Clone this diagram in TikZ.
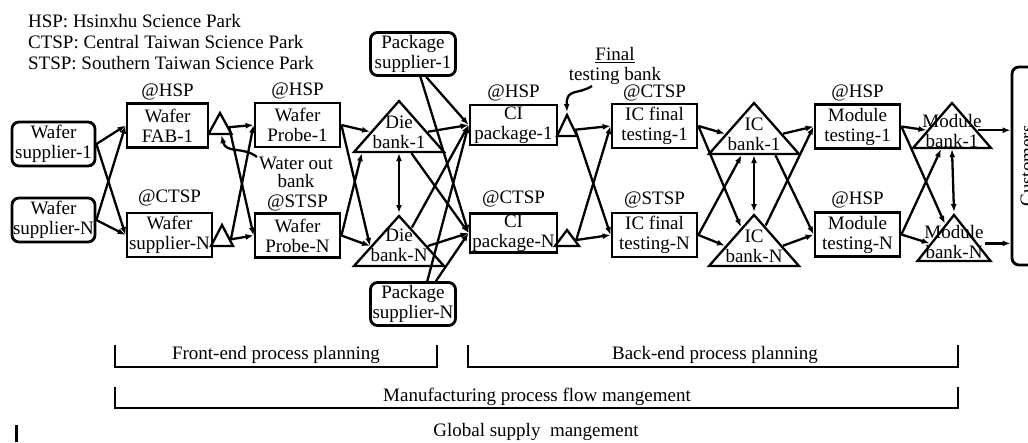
\documentclass[tikz,border=0pt]{standalone}
\usepackage{fontspec}
\setmainfont{Liberation Serif}
\usetikzlibrary{arrows.meta, shapes.geometric, positioning}

\tikzset{
	proc/.style = {draw, line width = 2.8pt, minimum width = 85pt, minimum height = 44pt, align = center, inner sep = 1pt},
	supp/.style = {proc, rounded corners = 7pt},
	bigbank/.style = {draw, isosceles triangle, isosceles triangle stretches, shape border rotate = 90, minimum width = 90pt, minimum height = 51pt, inner sep = 0pt},
	smallbank/.style = {bigbank, minimum width = 23pt, minimum height = 21pt},
	banktext/.style = {align = center, inner sep = 0pt, anchor = south},
	site/.style = {inner sep = 1pt}
}

\begin{document}
\begin{tikzpicture}[x = 1pt, y = -1pt, > = {Latex[length = 8pt, width = 6pt]}, line width = 2.3pt, font = \fontsize{19}{20}\selectfont]

	\clip (0, 0) rectangle (1028, 442);

	% Legend

	\node [anchor = north west, align = left, inner sep = 0pt, font = \fontsize{19}{21}\selectfont] (legend) at (27, 13)
		{HSP: Hsinxhu Science Park\\CTSP: Central Taiwan Science Park\\STSP: Southern Taiwan Science Park};

	% Suppliers and process steps

	\node [supp, minimum width = 83pt] (ws1) at (53.5, 144) {Wafer\\supplier-1};
	\node [supp, minimum width = 83pt] (wsN) at (53.5, 220) {Wafer\\supplier-N};
	\node [proc, minimum width = 81pt] (fab1) at (167.5, 125.5) {Wafer\\FAB-1};
	\node [proc] (fabN) at (169.5, 235) {Wafer\\supplier-N};
	\node [proc] (wp1) at (297.5, 125) {Wafer\\Probe-1};
	\node [proc] (wpN) at (297.5, 235.5) {Wafer\\Probe-N};
	\node [supp, minimum height = 43pt] (ps1) at (413, 54) {Package\\supplier-1};
	\node [supp, minimum height = 43pt] (psN) at (413, 304) {Package\\supplier-N};
	\node [proc, minimum width = 87pt, minimum height = 40pt] (ci1) at (513.5, 125) {CI\\package-1};
	\node [proc, minimum width = 87pt, minimum height = 38pt] (ciN) at (513.5, 233) {CI\\package-N};
	\node [proc] (ft1) at (654.5, 126) {IC final\\testing-1};
	\node [proc] (ftN) at (654.5, 235) {IC final\\testing-N};
	\node [proc] (mt1) at (857.5, 126.5) {Module\\testing-1};
	\node [proc] (mtN) at (857.5, 234.5) {Module\\testing-N};
	\node [supp, rotate = 90, minimum width = 198pt, minimum height = 30pt] (cust) at (1027, 166) {Customers};

	% Sites

	\node [site, above = 0pt of fab1] (fab1-at) {@HSP};
	\node [site, above = 3pt of fabN] (fabN-at) {@CTSP};
	\node [site, above = 0pt of wp1] (wp1-at) {@HSP};
	\node [site, above = -1pt of wpN] (wpN-at) {@STSP};
	\node [site, above = 0pt of ci1] (ci1-at) {@HSP};
	\node [site, above = 3pt of ciN] (ciN-at) {@CTSP};
	\node [site, above = -1pt of ft1] (ft1-at) {@CTSP};
	\node [site, above = 1pt of ftN] (ftN-at) {@STSP};
	\node [site, above = 0pt of mt1] (mt1-at) {@HSP};
	\node [site, above = 1pt of mtN] (mtN-at) {@HSP};

	% Banks

	\node [smallbank, anchor = apex] (wob1) at (220, 110) {};
	\node [smallbank, anchor = apex, minimum width = 22pt] (wobN) at (222, 222) {};
	\node [bigbank, anchor = apex] (db1) at (399, 98) {};
	\node [bigbank, anchor = apex, minimum height = 50pt] (dbN) at (399, 213) {};
	\node [smallbank, anchor = apex, minimum width = 20pt] (ftb1) at (567, 112) {};
	\node [smallbank, anchor = apex, minimum width = 24pt, minimum height = 16pt] (ftbN) at (567, 227) {};
	\node [bigbank, anchor = apex] (ib1) at (754, 100) {};
	\node [bigbank, anchor = apex] (ibN) at (754, 212) {};
	\node [bigbank, anchor = apex, minimum width = 78pt, minimum height = 45pt] (mb1) at (952, 100) {};
	\node [bigbank, anchor = apex, minimum width = 73pt, minimum height = 46pt] (mbN) at (954, 212) {};

	\node [banktext, yshift = 3pt] (db1-t) at (db1.lower side) {Die\\bank-1};
	\node [banktext, yshift = 4pt] (dbN-t) at (dbN.lower side) {Die\\bank-N};
	\node [banktext, yshift = 3pt] (ib1-t) at (ib1.lower side) {IC\\bank-1};
	\node [banktext, yshift = 3pt] (ibN-t) at (ibN.lower side) {IC\\bank-N};
	\node [banktext, yshift = 0pt] (mb1-t) at (mb1.lower side) {Module\\bank-1};
	\node [banktext, yshift = 2pt] (mbN-t) at (mbN.lower side) {Module\\bank-N};

	% Bank notes

	\node [align = center, inner sep = 0pt, font = \fontsize{19}{18}\selectfont] (wobl) at (296, 172) {Water out\\bank};
	\node [align = center, inner sep = 0pt] (ftbl) at (615, 66) {\underline{Final}\\testing bank};
	\coordinate (wobl-s) at (257, 157);
	\coordinate (ftbl-s) at (592, 86);

	\draw [->] (wobl-s) .. controls (243, 146) and (226, 154) .. (wob1.-80);
	\draw [->] (ftbl-s) .. controls (578, 95) and (566, 88) .. (ftb1.90);

	% Flows

	\begin{scope}[->]

		\foreach \a in {ws1, wsN}
			\foreach \b in {fab1, fabN}
				\draw (\a.east) -- (\b.west);

		\foreach \a in {wob1, wobN}
			\foreach \b in {wp1, wpN}
				\draw (\a.east) -- (\b.west);

		\draw (wp1.east) -- (db1.west);
		\draw (wp1.east) -- (dbN.west);
		\draw (wpN.east) -- (db1.210);
		\draw (wpN.east) -- (dbN.west);

		\draw (db1.east) -- (ci1.west);
		\draw (db1.-60) -- (ciN.west);
		\draw (dbN.55) -- (ci1.west);
		\draw (dbN.east) -- (ciN.west);
		\draw (ps1.-60) -- (ci1.west);
		\draw (ps1.-72) -- (ciN.west);
		\draw (psN.58) -- (ci1.west);
		\draw (psN.45) -- (ciN.west);

		\foreach \a in {ftb1, ftbN}
			\foreach \b in {ft1, ftN}
				\draw (\a.east) -- (\b.west);

		\draw (ft1.east) -- (ib1.west);
		\draw (ft1.east) -- (ibN.125);
		\draw (ftN.east) -- (ib1.240);
		\draw (ftN.east) -- (ibN.west);

		\draw (ib1.east) -- (mt1.west);
		\draw (ib1.-45) -- (mtN.west);
		\draw (ibN.60) -- (mt1.west);
		\draw (ibN.east) -- (mtN.west);

		\draw (mt1.east) -- (mb1.west);
		\draw (mt1.east) -- (mbN.115);
		\draw (mtN.east) -- (mb1.240);
		\draw (mtN.east) -- (mbN.west);

		\draw (mb1.east) -- (mb1.east -| cust.north);
		\draw (mbN.east -| mbN-t.east) -- (mbN.east -| cust.north);

	\end{scope}

	% Links between twin banks

	\begin{scope}[<->]

		\draw (db1.lower side) -- (dbN.apex);
		\draw (ib1.lower side) -- (ibN.apex);
		\draw (mb1.lower side) -- (mbN.apex);

	\end{scope}

	% Planning levels

	\draw (115, 345) |- (437, 367) -- (437, 345);
	\draw (468, 345) |- (958, 367) -- (958, 345);
	\draw (115, 387) |- (958, 408) -- (958, 387);
	\draw [line width = 3pt] (16, 425) -- (16, 442);

	\node (fe) at (276, 355) {Front-end process planning};
	\node (be) at (715, 355) {Back-end process planning};
	\node (mf) at (537, 397) {Manufacturing process flow mangement};
	\node (gs) at (536, 432) {Global supply~~mangement};

\end{tikzpicture}
\end{document}
